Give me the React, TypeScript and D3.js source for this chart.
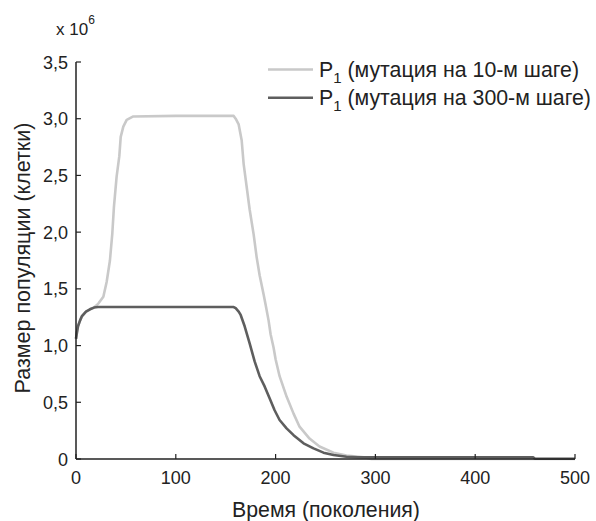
import React from "react";
import * as d3 from "d3";

const W = 596;
const H = 521;

const xTicks = [0, 100, 200, 300, 400, 500];
const yTicks = [0, 0.5, 1.0, 1.5, 2.0, 2.5, 3.0, 3.5];

const greyGen = [0, 1, 2, 4, 6, 8, 10, 14, 18, 22.4, 27.4, 30.7, 34, 36.4, 38, 40.7, 43.4, 44.8, 47.4, 50.8, 57.4, 100, 158, 160, 163, 166, 168, 171, 174, 178, 181, 184, 188, 190, 193, 195, 198, 200, 204, 211, 218, 224, 234, 244, 258, 271, 291, 296, 500];
const greyVal = [1.06, 1.12, 1.17, 1.22, 1.26, 1.28, 1.30, 1.32, 1.335, 1.37, 1.43, 1.56, 1.75, 1.99, 2.22, 2.49, 2.67, 2.84, 2.93, 2.99, 3.02, 3.025, 3.025, 3.0, 2.95, 2.81, 2.6, 2.4, 2.2, 1.98, 1.78, 1.62, 1.45, 1.36, 1.22, 1.10, 0.98, 0.88, 0.73, 0.55, 0.40, 0.285, 0.18, 0.11, 0.056, 0.03, 0.012, 0.0, 0.0];

const darkGen = [0, 1, 2, 4, 6, 8, 10, 14, 18, 22, 158, 160, 163, 165, 169, 174, 179, 184, 189, 194, 199, 204, 211, 218, 228, 238, 248, 258, 271, 282, 458, 460, 500];
const darkVal = [1.06, 1.12, 1.17, 1.22, 1.26, 1.28, 1.30, 1.32, 1.335, 1.34, 1.34, 1.33, 1.30, 1.27, 1.17, 1.02, 0.86, 0.73, 0.64, 0.535, 0.43, 0.344, 0.27, 0.21, 0.138, 0.094, 0.056, 0.035, 0.02, 0.016, 0.016, 0.002, 0.002];

const seriesNames = ["(мутация на 10-м шаге)", "(мутация на 300-м шаге)"];
const GREY = "#c9c9c9";
const DARK = "#5e5e5e";
const FONT = "'Liberation Sans', Arial, Helvetica, sans-serif";

export default function App() {
  const x = d3.scaleLinear().domain([0, 500]).range([76, 575]);
  const y = d3.scaleLinear().domain([0, 3.5]).range([459, 62]);

  const line = d3
    .line<[number, number]>()
    .x((d) => x(d[0]))
    .y((d) => y(d[1]));

  const grey: [number, number][] = greyGen.map((g, i) => [g, greyVal[i]]);
  const dark: [number, number][] = darkGen.map((g, i) => [g, darkVal[i]]);

  const fmt = (v: number) => (v === 0 ? "0" : d3.format(".1f")(v).replace(".", ","));

  return (
    <svg
      width={W}
      height={H}
      style={{ position: "absolute", left: 0, top: 0, background: "#fff" }}
      fontFamily={FONT}
    >
      <rect width={W} height={H} fill="#fff" />
      {/* data */}
      <path d={line(grey) || ""} fill="none" stroke={GREY} strokeWidth={2.6} strokeLinejoin="round" />
      <path d={line(dark) || ""} fill="none" stroke={DARK} strokeWidth={2.6} strokeLinejoin="round" />

      {/* axes */}
      <line x1={x(0)} x2={x(500)} y1={y(0)} y2={y(0)} stroke="#222" strokeWidth={1.5} />
      <line x1={x(0)} x2={x(0)} y1={y(0)} y2={y(3.5)} stroke="#222" strokeWidth={1.5} />
      {xTicks.map((t) => (
        <g key={"x" + t}>
          <line x1={x(t)} x2={x(t)} y1={y(0)} y2={y(0) - 5} stroke="#222" strokeWidth={1.2} />
          <text x={x(t)} y={484} textAnchor="middle" fontSize={18} fill="#222">
            {t}
          </text>
        </g>
      ))}
      {yTicks.map((t) => (
        <g key={"y" + t}>
          <line x1={x(0)} x2={x(0) + 5} y1={y(t)} y2={y(t)} stroke="#222" strokeWidth={1.2} />
          <text x={68} y={y(t) + 6.5} textAnchor="end" fontSize={18} fill="#222">
            {fmt(t)}
          </text>
        </g>
      ))}

      {/* multiplier */}
      <text x={56} y={35} fontSize={17} fill="#222">
        x 10
        <tspan dy={-11} fontSize={12}>6</tspan>
      </text>

      {/* axis titles */}
      <text x={326} y={517} textAnchor="middle" fontSize={21.3} fill="#222">
        Время (поколения)
      </text>
      <text
        transform={`translate(30,258) rotate(-90)`}
        textAnchor="middle"
        fontSize={21.5}
        fill="#222"
      >
        Размер популяции (клетки)
      </text>

      {/* legend */}
      {[GREY, DARK].map((c, i) => (
        <g key={"leg" + i}>
          <line x1={268} x2={313} y1={69.5 + i * 28.3} y2={69.5 + i * 28.3} stroke={c} strokeWidth={2.6} />
          <text x={319} y={77} transform="" dy={i * 28.3} fontSize={21.3} fill="#222">
            P
            <tspan dy={6} fontSize={15}>1</tspan>
            <tspan dy={-6}> {seriesNames[i]}</tspan>
          </text>
        </g>
      ))}
    </svg>
  );
}
